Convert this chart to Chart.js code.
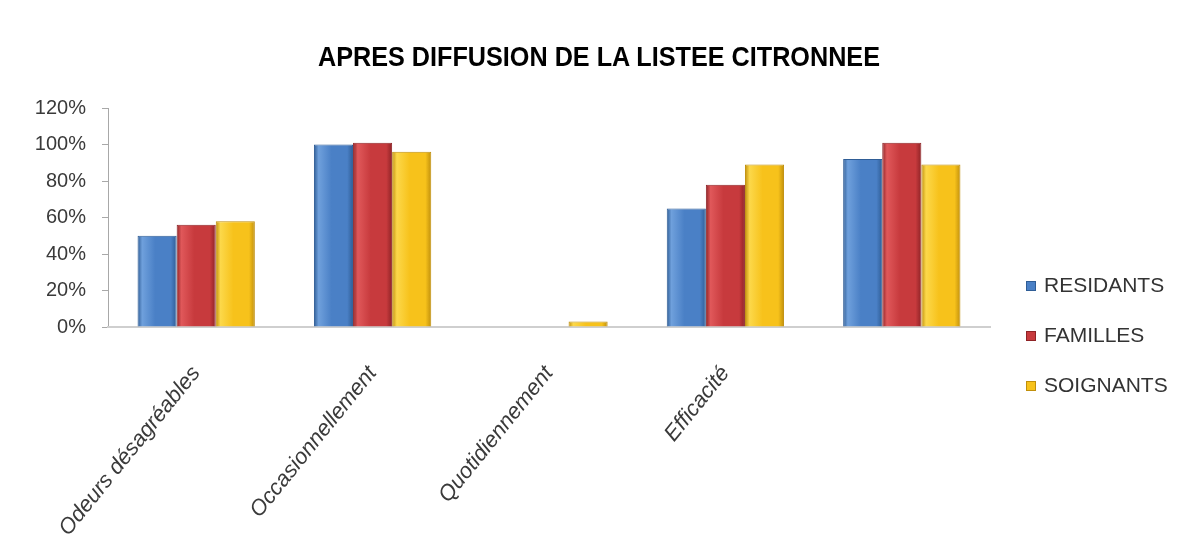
<!DOCTYPE html>
<html>
<head>
<meta charset="utf-8">
<script src="https://cdn.jsdelivr.net/npm/chart.js@4.4.1/dist/chart.umd.min.js"></script>
<style>
  html, body { margin: 0; padding: 0; background: #ffffff; }
  #wrap { position: relative; width: 1186px; height: 558px; }
  #title { position: absolute; left: 0; width: 1198px; top: 40px; text-align: center; font-family: "Liberation Sans", Arial, sans-serif; font-weight: bold; font-size: 28px; line-height: 34px; color: #000; transform: scaleX(0.9); transform-origin: 599px 0; white-space: nowrap; }
  #legend { position: absolute; left: 1027px; top: 270px; font-family: "Liberation Sans", Arial, sans-serif; font-size: 21px; color: #333; }
  .item { position: absolute; left: 0; height: 30px; line-height: 30px; white-space: nowrap; }
  .sw { display: inline-block; width: 8px; height: 8px; margin-right: 9px; vertical-align: 2px; }
</style>
</head>
<body>
<div id="wrap">
  <canvas id="c" width="1186" height="558"></canvas>
  <div id="title"></div>
  <div id="legend"></div>
</div>
<script>
const categories = ["Odeurs désagréables", "Occasionnellement", "Quotidiennement", "Efficacité", ""];
const seriesNames = ["RESIDANTS", "FAMILLES", "SOIGNANTS"];
const residants = [50, 100, 0, 65, 92];
const familles = [56, 101, 0, 78, 101];
const soignants = [58, 96, 3, 89, 89];
const yTicks = [0, 20, 40, 60, 80, 100, 120];
const titleText = "APRES DIFFUSION DE LA LISTEE CITRONNEE";

const fills = ["#4a80c6", "#c73a3d", "#f7c21b"];
const lights = ["#6fa0dc", "#e0585a", "#fcd84a"];
const darks = ["#2f5d96", "#8e2326", "#c08f0c"];
const values = [residants, familles, soignants];

const datasets = seriesNames.map((n, i) => ({
  label: n,
  data: values[i],
  backgroundColor: () => fills[i],
  borderColor: () => darks[i],
  borderWidth: 1,
  barPercentage: 1.0,
  categoryPercentage: 0.665
}));

const bevelPlugin = {
  id: "bevel",
  beforeDatasetsDraw(chart) {
    const ctx = chart.ctx;
    chart.data.datasets.forEach((ds, di) => {
      const meta = chart.getDatasetMeta(di);
      meta.data.forEach((el) => {
        const p = el.getProps(["x", "width"], true);
        const l = p.x - p.width / 2, r = p.x + p.width / 2;
        const g = ctx.createLinearGradient(l, 0, r, 0);
        g.addColorStop(0, darks[di]);
        g.addColorStop(0.12, lights[di]);
        g.addColorStop(0.45, fills[di]);
        g.addColorStop(0.85, fills[di]);
        g.addColorStop(1, darks[di]);
        el.options = Object.assign({}, el.options, { backgroundColor: g });
      });
    });
  }
};

new Chart(document.getElementById("c"), {
  type: "bar",
  data: { labels: categories, datasets: datasets },
  plugins: [bevelPlugin],
  options: {
    responsive: false,
    animation: false,
    devicePixelRatio: 1,
    layout: { padding: { top: 108, left: 30, right: 196, bottom: 0 } },
    plugins: {
      legend: { display: false },
      tooltip: { enabled: false },
      title: { display: false }
    },
    scales: {
      y: {
        min: 0, max: 120,
        afterBuildTicks: (s) => { s.ticks = yTicks.map(v => ({ value: v })); },
        afterFit: (s) => { s.width = 78; },
        ticks: {
          callback: (v) => v + "%",
          color: "#3a3a3a",
          padding: 16,
          font: { family: "'Liberation Sans', Arial, sans-serif", size: 20 }
        },
        grid: { display: true, drawOnChartArea: false, drawTicks: true, tickLength: 6, color: "#a8a8a8" },
        border: { display: true, color: "#a8a8a8", width: 1 }
      },
      x: {
        afterFit: (s) => { s.height = 231; },
        ticks: {
          autoSkip: false,
          minRotation: 51, maxRotation: 51,
          color: "#3a3a3a",
          padding: 26,
          font: { family: "'Liberation Sans', Arial, sans-serif", size: 22, style: "italic" }
        },
        grid: { display: false },
        border: { display: true, color: "#cfcfcf", width: 2 }
      }
    }
  }
});

document.getElementById("title").textContent = titleText;
const leg = document.getElementById("legend");
seriesNames.forEach((n, i) => {
  const d = document.createElement("div");
  d.className = "item";
  d.style.top = (i * 50) + "px";
  d.innerHTML = '<span class="sw" style="background:' + fills[i] + ';outline:1px solid ' + darks[i] + '"></span>' + n;
  leg.appendChild(d);
});
</script>
</body>
</html>
